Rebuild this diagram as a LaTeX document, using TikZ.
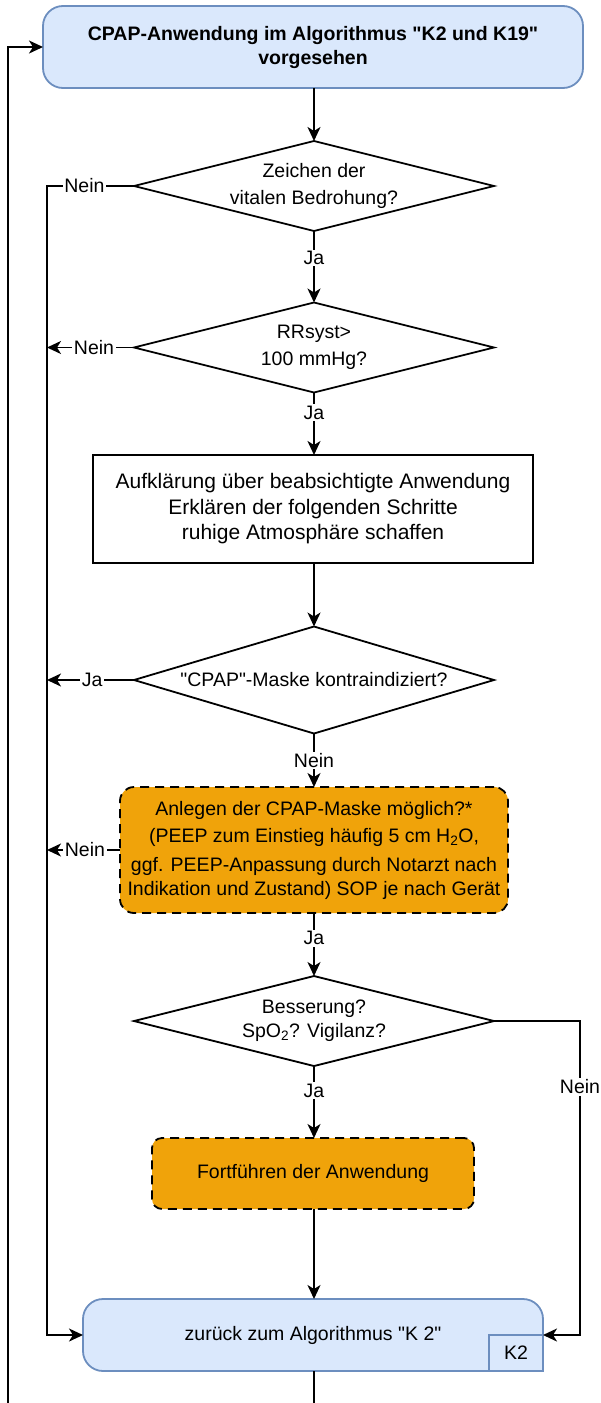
\documentclass[tikz,border=0pt]{standalone}
\usepackage{fontspec}
\setmainfont{Liberation Sans}[Ligatures=TeXOff]
\usetikzlibrary{shapes.geometric,arrows.meta}

\definecolor{blueFill}{HTML}{DAE8FC}
\definecolor{blueLine}{HTML}{6C8EBF}
\definecolor{orangeFill}{HTML}{F0A30A}

\newcommand\txtS{\fontsize{19.5}{24}\selectfont}
\newcommand\txtL{\fontsize{21}{25.5}\selectfont}

\tikzset{
  base/.style={draw, line width=1.8pt, outer sep=0pt, inner sep=0pt, align=center},
  term/.style={base, draw=blueLine, fill=blueFill, rounded corners=20pt},
  dia/.style={base, shape=diamond, fill=white, minimum width=360pt},
  proc/.style={base, fill=white},
  action/.style={base, fill=orangeFill, rounded corners=14pt, dash pattern=on 9pt off 6pt},
  flow/.style={line width=1.8pt, -{Stealth[length=14pt,width=13pt,inset=4pt]}},
  wire/.style={line width=1.8pt},
  tag/.style={fill=white, inner sep=1.5pt, font=\txtS},
}

\begin{document}
\begin{tikzpicture}[x=1pt,y=-1pt]
\useasboundingbox (0,0) rectangle (601,1403);

% main column
\node[term, minimum width=540pt, minimum height=82pt, font=\bfseries\txtS] (start) at (313,47)
  {CPAP-Anwendung im Algorithmus "K2 und K19"\\vorgesehen};

\node[dia, minimum height=90pt,
  label={[font=\txtS, align=center]center:{Zeichen der\\[3pt]vitalen Bedrohung?}}] (d1) at (314,186) {};

\node[dia, minimum height=90pt,
  label={[font=\txtS, align=center]center:{RRsyst>\\[3pt]100 mmHg?}}] (d2) at (314,347.5) {};

\node[proc, minimum width=440pt, minimum height=108pt, font=\txtL] (info) at (313,509)
  {Aufklärung über beabsichtigte Anwendung\\Erklären der folgenden Schritte\\ruhige Atmosphäre schaffen};

\node[dia, minimum height=107pt,
  label={[font=\txtS, align=center]center:{"CPAP"-Maske kontraindiziert?}}] (d3) at (314,680) {};

\node[action, minimum width=388pt, minimum height=126pt, font=\txtS] (mask) at (314,850)
  {Anlegen der CPAP-Maske möglich?*\\[3pt](PEEP zum Einstieg häufig 5 cm H\textsubscript{2}O,\\[5pt]ggf. PEEP-Anpassung durch Notarzt nach\\Indikation und Zustand) SOP je nach Gerät};

\node[dia, minimum height=90pt,
  label={[font=\txtS, align=center]center:{Besserung?\\SpO\textsubscript{2}? Vigilanz?}}] (d4) at (314,1021) {};

\node[action, rounded corners=10pt, minimum width=322pt, minimum height=71pt, font=\txtS] (cont) at (313,1173.5)
  {Fortführen der Anwendung};

\node[term, minimum width=460pt, minimum height=72pt, font=\txtS] (back) at (313,1335)
  {zurück zum Algorithmus "K 2"};
\node[base, draw=blueLine, fill=blueFill, minimum width=54pt, minimum height=36pt, font=\txtS] (k2) at (516,1353) {K2};

% bus lines
\coordinate (busTop) at (47,186);
\coordinate (busBot) at (47,1335);
\coordinate (bus2) at (47,347.5);
\coordinate (bus3) at (47,680);
\coordinate (bus4) at (47,850);
\coordinate (rTop) at (580,1021);
\coordinate (rBot) at (580,1335);
\coordinate (outB) at (314,1403);
\coordinate (loopB) at (8,1403);

% vertical flow
\draw[flow] (start.south -| d1.north) -- (d1.north);
\draw[flow] (d1.south) -- node[tag, pos=0.38]{Ja} (d2.north);
\draw[flow] (d2.south) -- node[tag, pos=0.32]{Ja} (info.north -| d2.south);
\draw[flow] (info.south -| d3.north) -- (d3.north);
\draw[flow] (d3.south) -- node[tag, pos=0.5]{Nein} (mask.north);
\draw[flow] (mask.south) -- node[tag, pos=0.4]{Ja} (d4.north);
\draw[flow] (d4.south) -- node[tag, pos=0.34]{Ja} (cont.north -| d4.south);
\draw[flow] (cont.south -| d4.south) -- (back.north -| d4.south);

% exits to the left
\draw[flow] (d1.west) -- node[tag, pos=0.57]{Nein} (busTop) -- (busBot) -- (back.west);
\draw[flow] (d2.west) -- node[tag, pos=0.46]{Nein} (bus2);
\draw[flow] (d3.west) -- node[tag, pos=0.48]{Ja} (bus3);
\draw[flow] (mask.west) -- node[tag, pos=0.48]{Nein} (bus4);

% no improvement
\draw[flow] (d4.east) -- (rTop) -- node[tag, pos=0.21]{Nein} (rBot) -- (back.east);

% return loop
\draw[wire] (back.south -| outB) -- (outB);
\draw[flow] (loopB) |- (start.west);
\end{tikzpicture}
\end{document}
